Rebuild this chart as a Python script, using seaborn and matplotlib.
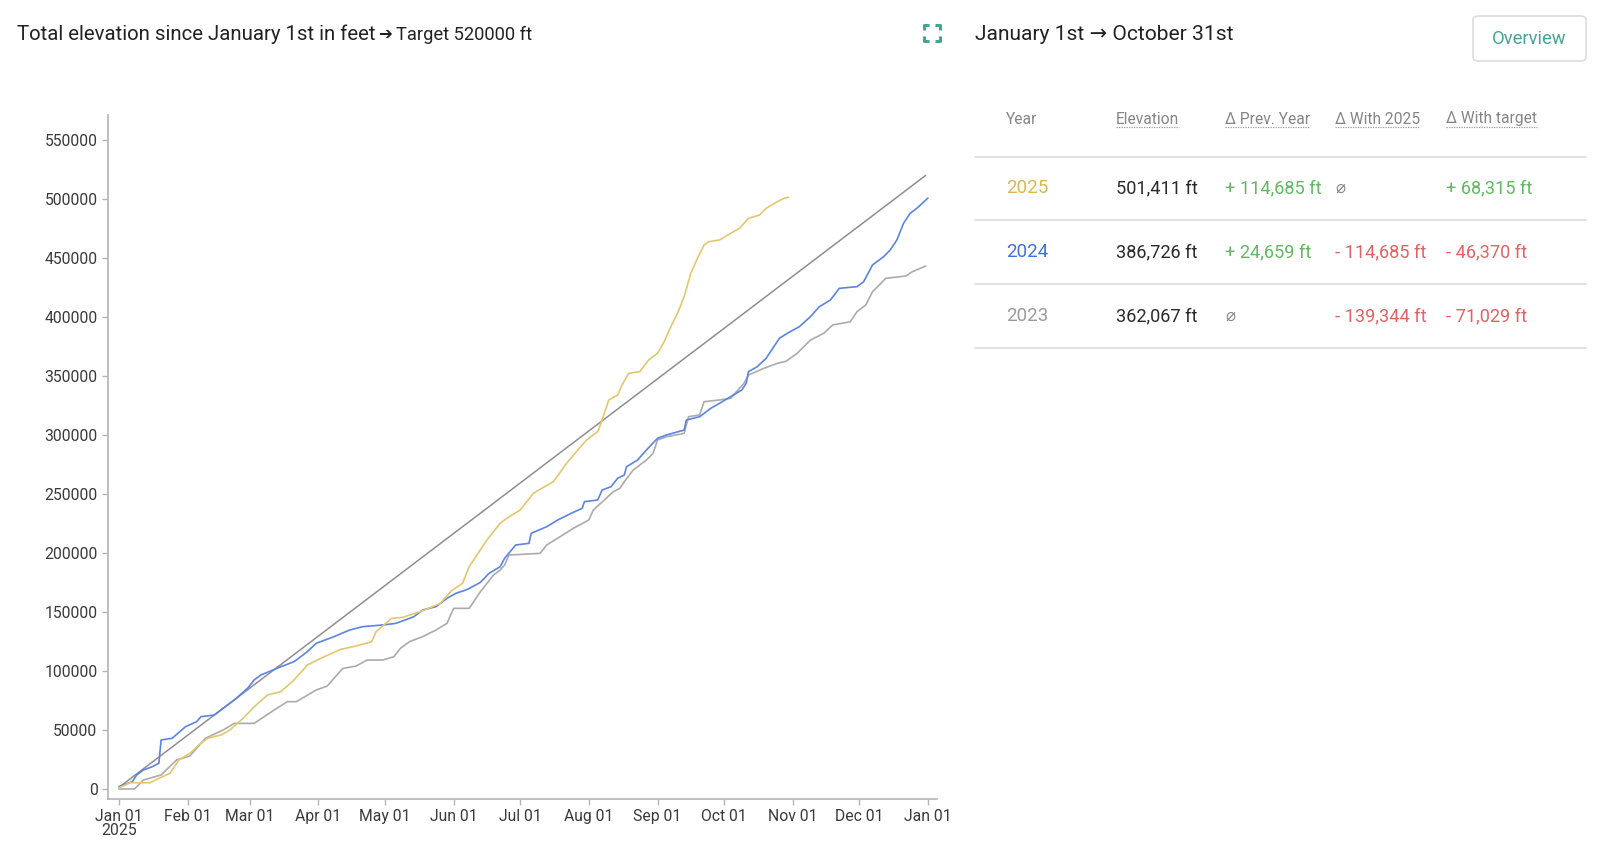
import pandas as pd
import numpy as np
import matplotlib.pyplot as plt
import matplotlib as mtl
import seaborn as sns
from matplotlib.lines import Line2D
from matplotlib.patches import FancyBboxPatch

# Cumulative elevation (ft) at day offsets from Jan 01
days_2025 = [0, 5, 14, 18, 23, 27, 32, 36, 40, 46, 50, 56, 61, 67, 73, 79, 85, 91, 100, 107,
             114, 116, 123, 128, 136, 145, 150, 155, 158, 166, 172, 175, 181, 187, 192, 196,
             202, 207, 211, 216, 218, 221, 225, 227, 230, 235, 239, 243, 246, 249, 252, 255,
             258, 261, 264, 266, 271, 276, 280, 284, 289, 292, 297, 300, 302]
elev_2025 = [1000, 5300, 5300, 9000, 13300, 24600, 30200, 37300, 43000, 45800, 50000, 59900,
             69700, 79700, 82500, 92400, 105100, 110700, 118300, 121200, 124800, 133300, 144600,
             145500, 150300, 157300, 168000, 174300, 188400, 211000, 225200, 229400, 236400,
             250600, 256200, 260400, 276000, 287300, 295800, 302800, 312700, 329700, 333900,
             342400, 352300, 353700, 363600, 369200, 379100, 391800, 403100, 417200, 437000,
             449700, 461000, 463800, 465300, 470900, 475200, 483600, 486400, 492100, 497700,
             500500, 501400]

days_2024 = [0, 6, 8, 11, 15, 18, 19, 24, 30, 35, 37, 43, 47, 52, 58, 61, 64, 73, 79, 85, 89,
             97, 104, 110, 119, 125, 133, 137, 143, 148, 152, 157, 163, 167, 172, 174, 179, 185,
             186, 193, 198, 204, 209, 210, 216, 218, 222, 225, 228, 229, 234, 238, 243, 247,
             255, 256, 262, 267, 271, 276, 281, 283, 284, 288, 292, 298, 302, 307, 312, 316,
             321, 325, 333, 336, 340, 345, 348, 351, 354, 357, 360, 365]
elev_2024 = [2000, 6200, 11900, 16100, 18900, 21800, 41500, 43000, 52800, 57000, 61300, 62700,
             68400, 75400, 85300, 92400, 96600, 103600, 107900, 116400, 123500, 129100, 134700,
             137600, 139000, 140400, 146000, 151700, 154500, 161600, 165800, 169000, 175000,
             182800, 188400, 195500, 206800, 208200, 216700, 222300, 228000, 233600, 237900,
             243500, 244900, 253400, 256200, 263300, 266100, 273100, 278800, 287300, 297200,
             300000, 304200, 312700, 315500, 322600, 326900, 332500, 338100, 343800, 353600,
             357900, 365000, 382000, 386700, 391800, 400300, 408700, 414400, 424300, 425700,
             429900, 444100, 451100, 456800, 465300, 479400, 487900, 492100, 500800]

days_2023 = [0, 7, 11, 19, 26, 32, 39, 47, 52, 61, 70, 76, 80, 89, 94, 101, 107, 112, 119, 124,
             127, 131, 137, 143, 148, 151, 158, 163, 169, 172, 174, 176, 190, 193, 199, 205,
             212, 214, 219, 223, 226, 228, 232, 238, 241, 243, 247, 255, 257, 262, 264, 271,
             276, 282, 284, 291, 297, 301, 306, 312, 318, 322, 330, 333, 337, 340, 346, 355,
             358, 364]
elev_2023 = [0, 0, 7600, 11900, 24600, 28000, 43000, 50000, 55600, 55600, 66900, 74000, 74000,
             83900, 87300, 102200, 104200, 109300, 109300, 112100, 119200, 124800, 129100,
             134700, 140400, 153100, 153100, 167000, 181400, 185600, 189800, 198300, 199700,
             206800, 213800, 220900, 228000, 236400, 244900, 251900, 254800, 260400, 270300,
             278800, 284500, 295800, 298500, 301400, 315500, 317000, 328200, 329700, 331100,
             343800, 350800, 356500, 360700, 362500, 369200, 380500, 386200, 393200, 396000,
             404500, 410200, 421400, 432800, 434700, 438400, 443200]

target_days = [0, 364]
target_elev = [1425, 520000]

month_starts = pd.date_range('2025-01-01', '2026-01-01', freq='MS')
month_labels = ['Jan 01\n2025', 'Feb 01', 'Mar 01', 'Apr 01', 'May 01', 'Jun 01', 'Jul 01',
                'Aug 01', 'Sep 01', 'Oct 01', 'Nov 01', 'Dec 01', 'Jan 01']
y_ticks = list(range(0, 550001, 50000))

# summary table (Jan 1st -> Oct 31st)
years = ['2025', '2024', '2023']
elevations = ['501,411 ft', '386,726 ft', '362,067 ft']
prev_year = ['+ 114,685 ft', '+ 24,659 ft', '⌀']
with_2025 = ['⌀', '- 114,685 ft', '- 139,344 ft']
with_target = ['+ 68,315 ft', '- 46,370 ft', '- 71,029 ft']
headers = ['Year', 'Elevation', 'Δ Prev. Year', 'Δ With 2025', 'Δ With target']

c2025, c2024, c2023 = '#e3c76e', '#5b84e3', '#ababab'
year_colors = ['#d8b84e', '#3f6fe0', '#9a9a9a']
green, red, teal = '#62b862', '#e06464', '#45a594'

sns.set_theme(style='white')
plt.rcParams['font.family'] = ['Roboto', 'DejaVu Sans']

W, H = 1600, 855
fig = plt.figure(figsize=(16, 8.55), dpi=100)
ax = fig.add_axes([108 / W, 1 - 799 / H, (937 - 108) / W, (799 - 115) / H])

start = pd.Timestamp('2025-01-01')
def to_dates(d):
    return start + pd.to_timedelta(d, unit='D')

sns.lineplot(ax=ax, x=to_dates(target_days), y=target_elev, color='#8e8e8e', linewidth=1.1)
sns.lineplot(ax=ax, x=to_dates(days_2023), y=elev_2023, color=c2023, linewidth=1.2)
sns.lineplot(ax=ax, x=to_dates(days_2024), y=elev_2024, color=c2024, linewidth=1.2)
sns.lineplot(ax=ax, x=to_dates(days_2025), y=elev_2025, color=c2025, linewidth=1.2)

ax.set_xlim(start - pd.Timedelta(days=4.96), start + pd.Timedelta(days=369.1))
ax.set_ylim(-8475, 571186)
ax.set_xticks(month_starts)
ax.set_xticklabels(month_labels, linespacing=0.85)
ax.set_yticks(y_ticks)
ax.get_yaxis().set_major_formatter(mtl.ticker.FuncFormatter(lambda y, p: format(int(y), 'd')))
ax.set_xlabel('')
ax.set_ylabel('')
for s in ['top', 'right']:
    ax.spines[s].set_visible(False)
for s in ['left', 'bottom']:
    ax.spines[s].set_color('#b4b4b4')
    ax.spines[s].set_linewidth(1.2)
ax.tick_params(axis='both', length=4.5, width=1, color='#b4b4b4', labelsize=11.3,
               labelcolor='#3a3a3a', pad=3, bottom=True, left=True)

def fx(x):
    return x / W
def fy(y):
    return 1 - y / H

renderer = fig.canvas.get_renderer()

# title with arrow and target
title = fig.text(fx(17), fy(34), 'Total elevation since January 1st in feet', fontsize=14.7,
                 color='#222222', va='center', ha='left')
tb = title.get_window_extent(renderer)
arrow = fig.text((tb.x1 + 3) / W, fy(34), '➔', fontsize=12, color='#222222', va='center', ha='left',
                 family=['DejaVu Sans'])
ab = arrow.get_window_extent(renderer)
fig.text((ab.x1 + 4) / W, fy(35), 'Target 520000 ft', fontsize=13.2, color='#222222',
         va='center', ha='left')

# expand icon
ix, iy, s, a = 924, 25, 16, 5
for cx, cy, dx, dy in [(ix, iy, 1, 1), (ix + s, iy, -1, 1), (ix, iy + s, 1, -1), (ix + s, iy + s, -1, -1)]:
    fig.add_artist(Line2D([fx(cx), fx(cx), fx(cx + dx * a)], [fy(cy + dy * a), fy(cy), fy(cy)],
                          transform=fig.transFigure, color=teal, linewidth=2.2, solid_capstyle='butt'))

fig.text(fx(975), fy(34), 'January 1st → October 31st', fontsize=15.1, color='#222222',
         va='center', ha='left')

fig.add_artist(FancyBboxPatch((fx(1473), fy(61)), 113 / W, 45 / H, boxstyle='round,pad=0,rounding_size=0.004',
                              transform=fig.transFigure, facecolor='white', edgecolor='#dddddd', linewidth=1.2))
fig.text(fx(1529), fy(38.5), 'Overview', fontsize=13.2, color=teal, va='center', ha='center')

# table
col_x = [1006, 1116, 1225, 1335, 1446]
header_y = 119
row_y = [188, 252, 316]
line_y = [157, 220, 284, 348]

header_texts = []
for cx, h in zip(col_x, headers):
    t = fig.text(fx(cx), fy(header_y), h, fontsize=11.2, color='#858585', va='center', ha='left')
    header_texts.append(t)

for ly in line_y:
    fig.add_artist(Line2D([fx(975), fx(1586)], [fy(ly), fy(ly)], transform=fig.transFigure,
                          color='#dcdcdc', linewidth=1.2))

def cell_color(txt):
    if txt.startswith('+'):
        return green
    if txt.startswith('-'):
        return red
    return '#888888'

for i, ry in enumerate(row_y):
    fig.text(fx(col_x[0]), fy(ry), years[i], fontsize=13.5, color=year_colors[i], va='center',
             ha='left')
    fig.text(fx(col_x[1]), fy(ry), elevations[i], fontsize=13.1, color='#2a2a2a', va='center',
             ha='left')
    for cx, col in zip(col_x[2:], [prev_year, with_2025, with_target]):
        txt = col[i]
        if txt == '⌀':
            fig.text(fx(cx), fy(ry), txt, fontsize=12, color='#888888', va='center', ha='left',
                     family=['DejaVu Sans'])
        else:
            fig.text(fx(cx), fy(ry), txt, fontsize=13.1, color=cell_color(txt), va='center',
                     ha='left')

# dotted underline under sortable headers
for t in header_texts[1:]:
    bb = t.get_window_extent(renderer)
    yline = bb.y0 - 1
    fig.add_artist(Line2D([bb.x0 / W, bb.x1 / W], [yline / H, yline / H], transform=fig.transFigure,
                          color='#9a9a9a', linewidth=0.9, linestyle=(0, (1, 1))))

fig.savefig('out.png', dpi=100)
